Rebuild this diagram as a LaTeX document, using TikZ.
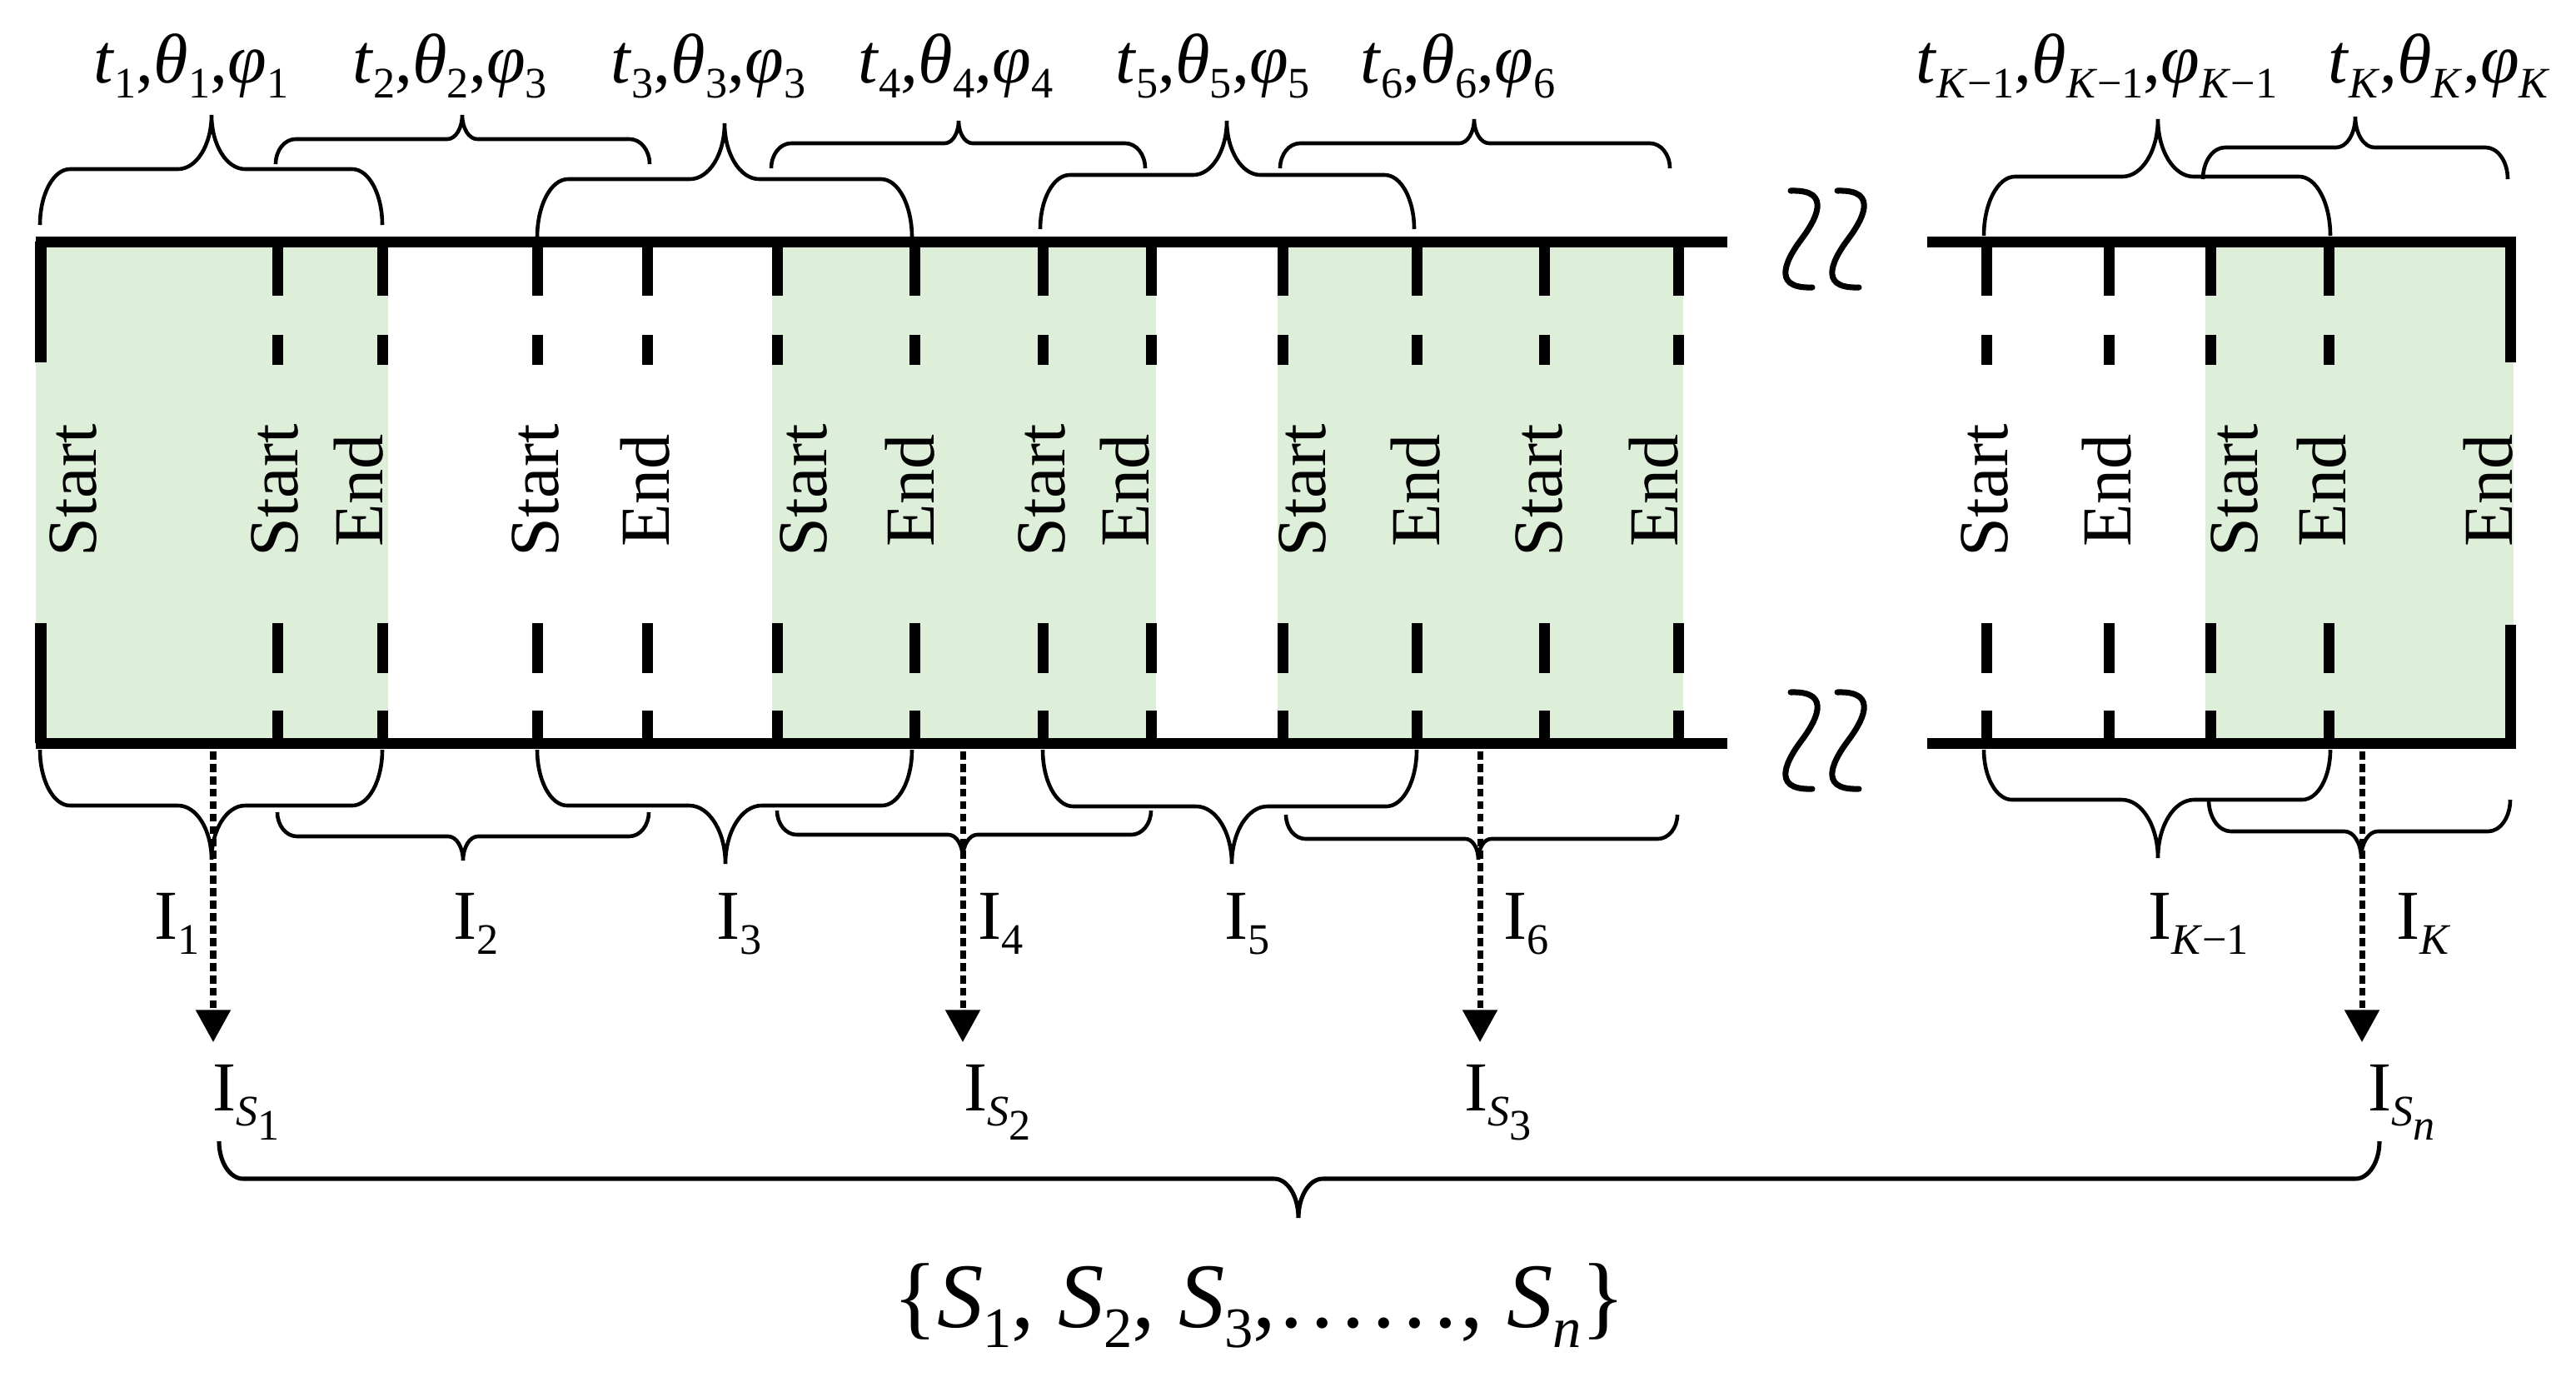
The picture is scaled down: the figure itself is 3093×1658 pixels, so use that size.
\documentclass[tikz,border=0pt]{standalone}
\usepackage{fontspec}
\setmainfont{Liberation Serif}
\usetikzlibrary{arrows.meta}
\definecolor{seggreen}{RGB}{221,239,216}
\newcommand\sbs[1]{\raisebox{-0.22em}{\scalebox{0.62}{#1}}}
\newcommand\tlab[3]{\textit{t}\sbs{#1},\textit{θ}\sbs{#2},\textit{φ}\sbs{#3}}
\newcommand\ISlab[1]{I\sbs{\textit{S}\raisebox{-0.33em}{#1}}}
% brace: [style] x1 x2 yend ybar xtip ytip
\newcommand\brc[7][]{%
 \pgfmathsetmacro\bw{14+0.33*abs(#5-#4)}%
 \pgfmathsetmacro\bd{0.62*abs(#7-#5)}%
 \draw[bracestyle,#1] (#2,#4) .. controls (#2,{#4+0.552*(#5-#4)}) and ({#2+0.448*\bw},#5) .. ({#2+\bw},#5)
  -- ({#6-\bd},#5) .. controls ({#6-0.448*\bd},#5) and (#6,{#7+0.552*(#5-#7)}) .. (#6,#7)
  .. controls (#6,{#7+0.552*(#5-#7)}) and ({#6+0.448*\bd},#5) .. ({#6+\bd},#5)
  -- ({#3-\bw},#5) .. controls ({#3-0.448*\bw},#5) and (#3,{#4+0.552*(#5-#4)}) .. (#3,#4);}
\newcommand\wav[2]{\draw[wavy] ({#1-13},{#2-58}) .. controls ({#1+40},{#2-60}) and ({#1+15},{#2-20}) .. (#1,#2) .. controls ({#1-15},{#2+20}) and ({#1-40},{#2+60}) .. ({#1+13},{#2+58});}
\newcommand\dl[1]{\draw[vl] (#1,290) -- (#1,355) (#1,402) -- (#1,438) (#1,748) -- (#1,808) (#1,853) -- (#1,892);}
\tikzset{
 hl/.style={line width=7.4pt},
 vl/.style={line width=7.4pt},
 bracestyle/.style={line width=2.6pt},
 wavy/.style={line width=4pt, line cap=round},
 lbl/.style={inner sep=0pt, font=\fontsize{48}{58}\selectfont},
 rot/.style={lbl, rotate=90},
 dotarrow/.style={line width=4pt, dash pattern=on 5.5pt off 3pt, -{Triangle[width=23pt,length=22pt]}, shorten >=15pt},
}
\begin{document}
\begin{tikzpicture}[x=0.02cm,y=-0.02cm]
\useasboundingbox (0,0) rectangle (3093,1658);
\fill[white] (0,0) rectangle (3093,1658);
% green segments
\fill[seggreen] (43,290) rectangle (466,892);
\fill[seggreen] (927,290) rectangle (1388,892);
\fill[seggreen] (1534,290) rectangle (2021,892);
\fill[seggreen] (2648,290) rectangle (3018,892);
% solid edges
\draw[vl] (49,290) -- (49,435) (49,748) -- (49,892);
\draw[vl] (3014,290) -- (3014,435) (3014,750) -- (3014,892);
% dashed boundaries
\dl{333}\dl{459}\dl{645}\dl{777}\dl{933}\dl{1098}\dl{1252}\dl{1382}\dl{1540}\dl{1701}\dl{1854}\dl{2015}
\dl{2385}\dl{2532}\dl{2654}\dl{2796}
% main lines
\draw[hl] (42.5,290) -- (2074,290) (42.5,892) -- (2074,892);
\draw[hl] (2314,290) -- (3020.5,290) (2314,892) -- (3020.5,892);
% break marks
\wav{2163}{287}\wav{2219}{287}\wav{2163}{889}\wav{2219}{889}
% texts in segments
\foreach \x/\t in {88/Start,330/Start,431/End,643/Start,775/End,965/Start,1093/End,1251/Start,1351/End,1564/Start,1700/End,1848/Start,1986/End,2383/Start,2530/End,2683/Start,2788/End,2988/End}
  \node[rot] (txt\x) at (\x,589) {\t};
% upper braces
\brc{48}{459}{270}{203}{254}{138}
\brc{331}{780}{197}{167}{555}{138}
\brc{645}{1095}{285}{215}{870}{148}
\brc{926}{1375}{202}{172}{1151}{145}
\brc{1249}{1698}{275}{210}{1473}{145}
\brc{1537}{2005}{202}{172}{1770}{143}
\brc{2382}{2798}{283}{212}{2591}{143}
\brc{2645}{3011}{215}{177}{2828}{140}
% lower braces
\brc{48}{459}{900}{967}{254}{1032}
\brc{333}{779}{975}{1004}{556}{1033}
\brc{645}{1095}{900}{967}{871}{1037}
\brc{933}{1382}{973}{1002}{1156}{1030}
\brc{1252}{1701}{900}{968}{1479}{1037}
\brc{1544}{2014}{978}{1007}{1775}{1032}
\brc{2382}{2798}{900}{960}{2591}{1030}
\brc{2652}{3014}{960}{998}{2835}{1030}
% big brace
\brc[line width=2.9pt]{263}{2857}{1370}{1415}{1559}{1462}
% top labels
\node[lbl,anchor=base] (T1) at (229.5,99) {\tlab{1}{1}{1}};
\node[lbl,anchor=base] (T2) at (540,99) {\tlab{2}{2}{3}};
\node[lbl,anchor=base] (T3) at (850.5,99) {\tlab{3}{3}{3}};
\node[lbl,anchor=base] (T4) at (1147.5,99) {\tlab{4}{4}{4}};
\node[lbl,anchor=base] (T5) at (1456,99) {\tlab{5}{5}{5}};
\node[lbl,anchor=base] (T6) at (1750.5,99) {\tlab{6}{6}{6}};
\node[lbl,anchor=base] (TK1) at (2517.5,99) {\tlab{\textit{K}−1}{\textit{K}−1}{\textit{K}−1}};
\node[lbl,anchor=base] (TK) at (2928.5,99) {\tlab{\textit{K}}{\textit{K}}{\textit{K}}};
% I labels
\node[lbl,anchor=base] (I1) at (212.5,1127) {I\sbs{1}};
\node[lbl,anchor=base] (I2) at (571.5,1127) {I\sbs{2}};
\node[lbl,anchor=base] (I3) at (887.5,1127) {I\sbs{3}};
\node[lbl,anchor=base] (I4) at (1201.5,1127) {I\sbs{4}};
\node[lbl,anchor=base] (I5) at (1498,1127) {I\sbs{5}};
\node[lbl,anchor=base] (I6) at (1833,1127) {I\sbs{6}};
\node[lbl,anchor=base] (IK1) at (2639.5,1127) {I\sbs{\textit{K}−1}};
\node[lbl,anchor=base] (IK) at (2910,1127) {I\sbs{\textit{K}}};
% selected
\node[lbl,anchor=base west] (IS1) at (255,1333) {\ISlab{1}};
\node[lbl,anchor=base west] (IS2) at (1157,1333) {\ISlab{2}};
\node[lbl,anchor=base west] (IS3) at (1758,1333) {\ISlab{3}};
\node[lbl,anchor=base west] (ISn) at (2843,1333) {\ISlab{\textit{n}}};
\coordinate (a1) at (256,902);
\coordinate (a2) at (1156,902);
\coordinate (a3) at (1777,902);
\coordinate (a4) at (2836,902);
\draw[dotarrow] (a1) -- (a1 |- IS1.north);
\draw[dotarrow] (a2) -- (a2 |- IS2.north);
\draw[dotarrow] (a3) -- (a3 |- IS3.north);
\draw[dotarrow] (a4) -- (a4 |- ISn.north);
% set
\node[inner sep=0pt, font=\fontsize{63}{75}\selectfont, anchor=base] (set) at (1512,1593)
  {\{\textit{S}\sbs{1}, \textit{S}\sbs{2}, \textit{S}\sbs{3},……, \textit{S}\sbs{\textit{n}}\}};
\end{tikzpicture}
\end{document}
